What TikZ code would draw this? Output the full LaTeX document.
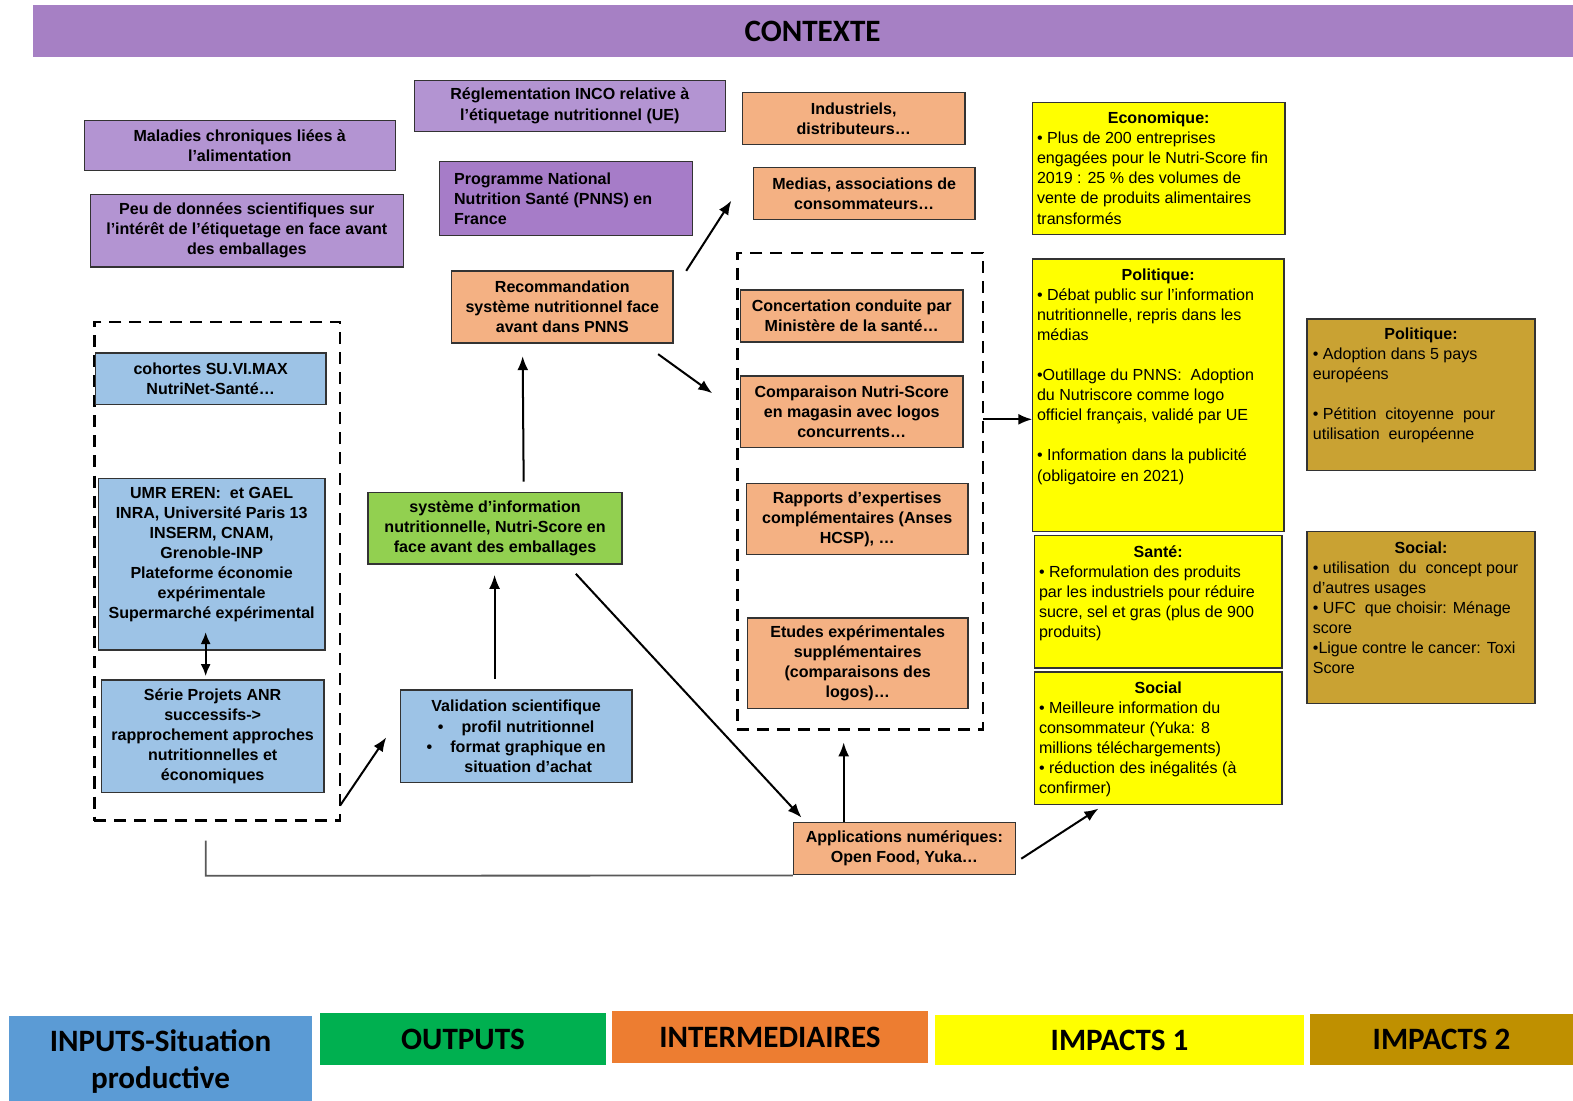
\documentclass[tikz,border=0pt]{standalone}
\usepackage{fontspec}
\setmainfont{Liberation Sans}
\newfontfamily\calfont{Carlito}
\usetikzlibrary{fit,arrows.meta,calc}
\definecolor{hdr}{HTML}{A680C4}
\definecolor{lpur}{HTML}{B394D2}
\definecolor{dpur}{HTML}{A67CC8}
\definecolor{ora}{HTML}{F4B183}
\definecolor{grn}{HTML}{92D050}
\definecolor{lblu}{HTML}{9DC3E6}
\definecolor{yel}{HTML}{FFFF00}
\definecolor{goldb}{HTML}{C9A233}
\definecolor{lgin}{HTML}{5B9BD5}
\definecolor{lgout}{HTML}{00B050}
\definecolor{lgint}{HTML}{ED7D31}
\definecolor{lgimp}{HTML}{BF9000}
\newcommand\bxx[4]{\node[#2, fit={#3}] (#1) {}; \node[btxtc] (#1-t) at (#1.center) {#4};}
\newcommand\lgx[4]{\node[legbox, fill=#2, fit={#3}] (#1) {}; \node[leg] (#1-t) at (#1.center) {#4};}
\begin{document}
\begin{tikzpicture}[x=0.5pt,y=-0.5pt,
 box/.style={draw=black!80, line width=0.7pt, inner sep=0pt},
 btxtc/.style={inner sep=0pt, align=center, font=\fontsize{8}{10}\selectfont\bfseries},
 btxt/.style={inner sep=0pt, font=\fontsize{8}{10}\selectfont\bfseries},
 ttl/.style={inner sep=0pt, font=\fontsize{8}{10}\selectfont\bfseries},
 bodytxt/.style={inner sep=0pt, align=left, font=\fontsize{8}{10}\selectfont},
 dbox/.style={draw=black, line width=1.3pt, dash pattern=on 6pt off 4pt, inner sep=0pt},
 legbox/.style={inner sep=0pt},
 leg/.style={inner sep=0pt, align=center, font=\calfont\bfseries\fontsize{15.5}{18.5}\selectfont},
 arr/.style={draw=black, line width=1pt, -{Latex[length=7pt,width=5.5pt]}},
 dbl/.style={draw=black, line width=1pt, {Latex[length=6pt,width=5pt]}-{Latex[length=6pt,width=5pt]}},
]
\useasboundingbox (0,0) rectangle (1568,1097);
\fill[white] (0,0) rectangle (1568,1097);

% header
\lgx{ctx}{hdr}{(33,5)(1568,57)}{}
\node[leg] (ctxt) at (810,31) {CONTEXTE};

% context boxes
\bxx{mal}{box, fill=lpur}{(84,120)(394,170)}{Maladies chroniques liées à\\l’alimentation}
\bxx{peu}{box, fill=lpur}{(90,194)(402,266)}{Peu de données scientifiques sur\\l’intérêt de l’étiquetage en face avant\\des emballages}
\bxx{inco}{box, fill=lpur}{(413,80)(723,131)}{Réglementation INCO relative à\\l’étiquetage nutritionnel (UE)}
\node[box, fill=dpur, fit={(438,161)(690,235)}] (pnns) {};
\node[btxt, align=left, anchor=west] (pnnst) at ($(pnns.west)+(15,0)$) {Programme National\\Nutrition Santé (PNNS) en\\France};

% intermediaries top
\bxx{ind}{box, fill=ora}{(740,92)(962,144)}{Industriels,\\distributeurs…}
\bxx{med}{box, fill=ora}{(751,167)(972,219)}{Medias, associations de\\consommateurs…}

% dashed groups
\node[dbox, fit={(94,321)(339,818)}] (dl) {};
\node[dbox, fit={(735,252)(980,727)}] (di) {};

% inputs
\bxx{coh}{box, fill=lblu}{(95,352)(325,403)}{cohortes SU.VI.MAX\\NutriNet-Santé…}
\node[box, fill=lblu, fit={(98,477)(324,648)}] (umr) {};
\node[btxtc] (umr-t) at ($(umr.center)+(0,-10)$) {UMR EREN:\ \ et GAEL\\INRA, Université Paris 13\\INSERM, CNAM,\\Grenoble-INP\\Plateforme économie\\expérimentale\\Supermarché expérimental};
\bxx{ser}{box, fill=lblu}{(101,678)(323,790)}{Série Projets ANR\\successifs->\\rapprochement approches\\nutritionnelles et\\économiques}
\bxx{val}{box, fill=lblu}{(399,688)(630,780)}{Validation scientifique\\•\hspace{9pt}profil nutritionnel\\•\hspace{9pt}format graphique en\\\hspace{12pt}situation d’achat}

% outputs
\bxx{sys}{box, fill=grn}{(367,491)(620,562)}{système d’information\\nutritionnelle, Nutri-Score en\\face avant des emballages}
\bxx{rec}{box, fill=ora}{(450,270)(671,342)}{Recommandation\\système nutritionnel face\\avant dans PNNS}

% intermediaries
\bxx{conc}{box, fill=ora}{(738,289)(960,341)}{Concertation conduite par\\Ministère de la santé…}
\bxx{comp}{box, fill=ora}{(738,375)(960,446)}{Comparaison Nutri-Score\\en magasin avec logos\\concurrents…}
\bxx{rap}{box, fill=ora}{(744,482)(965,553)}{Rapports d’expertises\\complémentaires (Anses\\HCSP), …}
\bxx{etu}{box, fill=ora}{(745,616)(965,706)}{Etudes expérimentales\\supplémentaires\\(comparaisons des\\logos)…}
\bxx{app}{box, fill=ora}{(791,820)(1012,872)}{Applications numériques:\\Open Food, Yuka…}

% impacts 1
\node[box, fill=yel, fit={(1029,102)(1281,234)}] (eco) {};
\node[ttl, anchor=north] (ecoT) at ($(eco.north)+(0,10)$) {Economique:};
\node[bodytxt, anchor=north west] (ecoB) at ($(eco.north west)+(5,30)$) {• Plus de 200 entreprises\\engagées pour le Nutri-Score fin\\2019 : 25 \% des volumes de\\vente de produits alimentaires\\transformés};

\node[box, fill=yel, fit={(1029,258)(1280,530)}] (pol) {};
\node[ttl, anchor=north] (polT) at ($(pol.north)+(0,10)$) {Politique:};
\node[bodytxt, anchor=north west] (polB) at ($(pol.north west)+(5,30)$) {• Débat public sur l'information\\nutritionnelle, repris dans les\\médias\\[10pt]•Outillage du PNNS:\ \ Adoption\\du Nutriscore comme logo\\officiel français, validé par UE\\[10pt]• Information dans la publicité\\(obligatoire en 2021)};

\node[box, fill=yel, fit={(1031,534)(1278,666)}] (san) {};
\node[ttl, anchor=north] (sanT) at ($(san.north)+(0,10)$) {Santé:};
\node[bodytxt, anchor=north west] (sanB) at ($(san.north west)+(5,30)$) {• Reformulation des produits\\par les industriels pour réduire\\sucre, sel et gras (plus de 900\\produits)};

\node[box, fill=yel, fit={(1031,670)(1278,802)}] (soc) {};
\node[ttl, anchor=north] (socT) at ($(soc.north)+(0,10)$) {Social};
\node[bodytxt, anchor=north west] (socB) at ($(soc.north west)+(5,30)$) {• Meilleure information du\\consommateur (Yuka: 8\\millions téléchargements)\\• réduction des inégalités (à\\confirmer)};

% impacts 2
\node[box, fill=goldb, fit={(1303,318)(1530,469)}] (gpol) {};
\node[ttl, anchor=north] (gpolT) at ($(gpol.north)+(0,9)$) {Politique:};
\node[bodytxt, anchor=north west] (gpolB) at ($(gpol.north west)+(6,29)$) {• Adoption dans 5 pays\\européens\\[10pt]• Pétition\ \ citoyenne\ \ pour\\utilisation\ \ européenne};

\node[box, fill=goldb, fit={(1303,530)(1530,701)}] (gsoc) {};
\node[ttl, anchor=north] (gsocT) at ($(gsoc.north)+(0,10)$) {Social:};
\node[bodytxt, anchor=north west] (gsocB) at ($(gsoc.north west)+(6,30)$) {• utilisation\ \ du\ \ concept pour\\d'autres usages\\• UFC\ \ que choisir: Ménage\\score\\•Ligue contre le cancer: Toxi\\Score};

% legend
\node[legbox, fill=lgin, fit={(9,1013)(311,1097)}] (lin) {};
\node[leg] (lin-t) at (160,1058) {INPUTS-Situation\\productive};
\lgx{lout}{lgout}{(319,1010)(604,1062)}{OUTPUTS}
\lgx{lint}{lgint}{(610,1008)(925,1060)}{INTERMEDIAIRES}
\lgx{li1}{yel}{(932,1012)(1300,1062)}{IMPACTS 1}
\lgx{li2}{lgimp}{(1306,1011)(1568,1062)}{IMPACTS 2}

% connector coordinates
\coordinate (a1s) at (339,803); \coordinate (a1e) at (385,735);
\coordinate (a2s) at (493,677); \coordinate (a2e) at (493,573);
\coordinate (a3s) at (522,480); \coordinate (a3e) at (521,355);
\coordinate (a4s) at (574,572); \coordinate (a4e) at (799,815);
\coordinate (a5s) at (684,270); \coordinate (a5e) at (729,200);
\coordinate (a6s) at (656,353); \coordinate (a6e) at (710,392);
\coordinate (a7s) at (980,418); \coordinate (a7e) at (1029,418);
\coordinate (a8s) at (841,819); \coordinate (a8e) at (841,740);
\coordinate (a9s) at (1018,856); \coordinate (a9e) at (1095,806);
\coordinate (l1) at (205,838); \coordinate (l2) at (205,873);
\coordinate (d1) at (205,630); \coordinate (d2) at (205,674);

\draw[arr] (a1s) -- (a1e);
\draw[arr] (a2s) -- (a2e);
\draw[arr] (a3s) -- (a3e);
\draw[arr] (a4s) -- (a4e);
\draw[arr] (a5s) -- (a5e);
\draw[arr] (a6s) -- (a6e);
\draw[arr] (a7s) -- (a7e);
\draw[arr] (a8s) -- (a8e);
\draw[arr] (a9s) -- (a9e);
\draw[dbl] (d1) -- (d2);
\draw[black!65, line width=0.9pt] (l1) -- (l2) -- (app.south west);
\end{tikzpicture}
\end{document}
